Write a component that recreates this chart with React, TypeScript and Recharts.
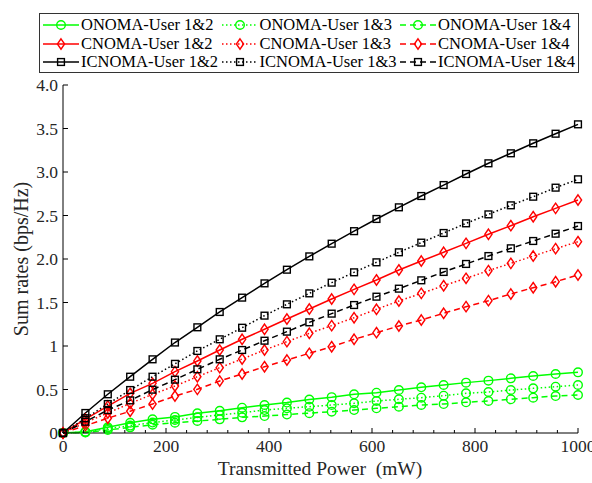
import { LineChart, Line, XAxis, YAxis } from "recharts";

// transmitted power (mW), 24 points
const power = [
  0, 43.5, 87, 130.4, 173.9, 217.4, 260.9, 304.3, 347.8, 391.3, 434.8, 478.3,
  521.7, 565.2, 608.7, 652.2, 695.7, 739.1, 782.6, 826.1, 869.6, 913, 956.5, 1000,
];

const onoma12 = [
  0, 0.015, 0.065, 0.118, 0.157, 0.185, 0.226, 0.256, 0.291, 0.322, 0.35, 0.385,
  0.412, 0.445, 0.463, 0.494, 0.525, 0.552, 0.579, 0.602, 0.628, 0.655, 0.678, 0.697,
];
const onoma13 = [
  0, 0.01, 0.05, 0.085, 0.12, 0.149, 0.18, 0.207, 0.233, 0.264, 0.284, 0.303,
  0.322, 0.341, 0.368, 0.387, 0.406, 0.429, 0.456, 0.471, 0.494, 0.513, 0.532, 0.552,
];
const onoma14 = [
  0, 0.005, 0.035, 0.065, 0.095, 0.118, 0.138, 0.157, 0.18, 0.195, 0.212, 0.228,
  0.245, 0.264, 0.284, 0.303, 0.322, 0.333, 0.353, 0.368, 0.387, 0.406, 0.425, 0.437,
];
const cnoma12 = [
  0, 0.16, 0.31, 0.456, 0.571, 0.705, 0.828, 0.954, 1.077, 1.192, 1.31, 1.425,
  1.54, 1.651, 1.759, 1.874, 1.977, 2.077, 2.18, 2.284, 2.383, 2.486, 2.582, 2.678,
];
const cnoma13 = [
  0, 0.12, 0.23, 0.34, 0.445, 0.54, 0.647, 0.751, 0.851, 0.954, 1.05, 1.146,
  1.234, 1.325, 1.422, 1.517, 1.605, 1.693, 1.778, 1.866, 1.95, 2.034, 2.119, 2.199,
];
const cnoma14 = [
  0, 0.085, 0.17, 0.25, 0.333, 0.425, 0.502, 0.598, 0.678, 0.762, 0.839, 0.916,
  0.992, 1.077, 1.153, 1.23, 1.299, 1.376, 1.452, 1.521, 1.598, 1.67, 1.739, 1.816,
];
const icnoma12 = [
  0, 0.23, 0.445, 0.647, 0.847, 1.04, 1.215, 1.391, 1.556, 1.72, 1.877, 2.03,
  2.176, 2.32, 2.46, 2.594, 2.724, 2.85, 2.977, 3.1, 3.215, 3.33, 3.44, 3.548,
];
const icnoma13 = [
  0, 0.17, 0.333, 0.494, 0.647, 0.795, 0.943, 1.077, 1.21, 1.349, 1.479, 1.605,
  1.728, 1.847, 1.962, 2.077, 2.188, 2.299, 2.41, 2.513, 2.617, 2.716, 2.82, 2.916,
];
const icnoma14 = [
  0, 0.13, 0.264, 0.375, 0.498, 0.613, 0.732, 0.847, 0.954, 1.061, 1.165, 1.272,
  1.372, 1.471, 1.567, 1.659, 1.755, 1.851, 1.943, 2.034, 2.123, 2.207, 2.291, 2.379,
];

const xMajorTicks = [0, 200, 400, 600, 800, 1000];
const xMinorTicks = [
  40, 80, 120, 160, 240, 280, 320, 360, 440, 480, 520, 560, 640, 680, 720, 760,
  840, 880, 920, 960,
];
const yTicks = [0, 0.5, 1, 1.5, 2, 2.5, 3, 3.5, 4];
const yTickLabels = ["0", "0.5", "1", "1.5", "2.0", "2.5", "3.0", "3.5", "4.0"];

const series = [
  { key: "o12", name: "ONOMA-User 1&2", values: onoma12, color: "#00ff00", dash: "", marker: "circle" },
  { key: "o13", name: "ONOMA-User 1&3", values: onoma13, color: "#00ff00", dash: "1.5 2.5", marker: "circle" },
  { key: "o14", name: "ONOMA-User 1&4", values: onoma14, color: "#00ff00", dash: "6 4", marker: "circle" },
  { key: "c12", name: "CNOMA-User 1&2", values: cnoma12, color: "#ff0000", dash: "", marker: "diamond" },
  { key: "c13", name: "CNOMA-User 1&3", values: cnoma13, color: "#ff0000", dash: "1.5 2.5", marker: "diamond" },
  { key: "c14", name: "CNOMA-User 1&4", values: cnoma14, color: "#ff0000", dash: "6 4", marker: "diamond" },
  { key: "i12", name: "ICNOMA-User 1&2", values: icnoma12, color: "#000000", dash: "", marker: "square" },
  { key: "i13", name: "ICNOMA-User 1&3", values: icnoma13, color: "#000000", dash: "1.5 2.5", marker: "square" },
  { key: "i14", name: "ICNOMA-User 1&4", values: icnoma14, color: "#000000", dash: "6 4", marker: "square" },
];

const data = power.map((p, i) => {
  const row: Record<string, number> = { p };
  series.forEach((s) => (row[s.key] = s.values[i]));
  return row;
});

const FONT = '"Liberation Serif", "Times New Roman", serif';
const TEXT = "#262626";

function drawMarker(shape: string, color: string, cx: number, cy: number, key?: string) {
  const common = { fill: "none", stroke: color, strokeWidth: 1.4, strokeDasharray: "none" };
  if (shape === "circle") return <circle key={key} cx={cx} cy={cy} r={4.3} {...common} />;
  if (shape === "diamond")
    return (
      <path
        key={key}
        d={`M${cx},${cy - 5.2}L${cx + 3.6},${cy}L${cx},${cy + 5.2}L${cx - 3.6},${cy}Z`}
        {...common}
      />
    );
  return <rect key={key} x={cx - 3.4} y={cy - 3.4} width={6.8} height={6.8} {...common} />;
}

const markerDot = (shape: string, color: string) => (props: any) => {
  const { cx, cy, index } = props;
  if (cx == null || cy == null) return <g key={`d${index}`} />;
  return drawMarker(shape, color, cx, cy, `d${index}`);
};

const BottomTick = (props: any) => {
  const { x, y, payload } = props;
  const major = xMajorTicks.includes(payload.value);
  return (
    <g>
      <line x1={x} y1={y} x2={x} y2={y - (major ? 5 : 3)} stroke="#000" />
      {major && (
        <text x={x} y={y + 19} textAnchor="middle" fontFamily={FONT} fontSize={17.5} fill={TEXT}>
          {payload.value}
        </text>
      )}
    </g>
  );
};

const TopTick = (props: any) => {
  const { x, y, payload } = props;
  const major = xMajorTicks.includes(payload.value);
  return <line x1={x} y1={y} x2={x} y2={y + (major ? 5 : 3)} stroke="#000" />;
};

const LeftTick = (props: any) => {
  const { x, y, payload } = props;
  const i = yTicks.indexOf(payload.value);
  return (
    <g>
      <line x1={x} y1={y} x2={x + 5} y2={y} stroke="#000" />
      <text x={x - 5} y={y + 6} textAnchor="end" fontFamily={FONT} fontSize={17.5} fill={TEXT}>
        {yTickLabels[i]}
      </text>
    </g>
  );
};

const RightTick = (props: any) => {
  const { x, y } = props;
  return <line x1={x} y1={y} x2={x - 5} y2={y} stroke="#000" />;
};

const LegendBox = () => (
  <div
    style={{
      position: "absolute",
      left: 39,
      top: 13,
      width: 538,
      height: 58,
      border: "1px solid #333",
      background: "#fff",
      fontFamily: FONT,
      fontSize: 16.5,
      color: "#000",
    }}
  >
    {series.map((s, i) => {
      const col = i % 3;
      const row = Math.floor(i / 3);
      return (
        <div
          key={s.key}
          style={{
            position: "absolute",
            left: 3 + col * 178.5,
            top: 2 + row * 18.7,
            height: 18,
            display: "flex",
            alignItems: "center",
            whiteSpace: "nowrap",
          }}
        >
          <svg width={36} height={14} style={{ marginRight: 2 }}>
            <line
              x1={0}
              y1={7}
              x2={36}
              y2={7}
              stroke={s.color}
              strokeWidth={1.5}
              strokeDasharray={s.dash || undefined}
            />
            {drawMarker(s.marker, s.color, 18, 7)}
          </svg>
          <span>{s.name}</span>
        </div>
      );
    })}
  </div>
);

export default function App() {
  return (
    <div style={{ position: "absolute", left: 0, top: 0, width: 592, height: 483, background: "#fff" }}>
      <LineChart width={592} height={483} data={data} margin={{ top: 85, right: 14, bottom: 0, left: 0 }}>
        <XAxis
          dataKey="p"
          type="number"
          domain={[0, 1000]}
          ticks={[...xMajorTicks, ...xMinorTicks].sort((a, b) => a - b)}
          interval={0}
          height={50}
          tickSize={0}
          tickMargin={0}
          tickLine={false}
          axisLine={{ stroke: "#000" }}
          tick={<BottomTick />}
          label={{
            content: () => (
              <text x={320} y={475} textAnchor="middle" fontFamily={FONT} fontSize={19.5} fill={TEXT}>
                {"Transmitted Power\u00a0\u00a0(mW)"}
              </text>
            ),
          }}
        />
        <XAxis
          xAxisId="top"
          orientation="top"
          dataKey="p"
          type="number"
          domain={[0, 1000]}
          ticks={[...xMajorTicks, ...xMinorTicks].sort((a, b) => a - b)}
          interval={0}
          height={0}
          tickSize={0}
          tickMargin={0}
          tickLine={false}
          axisLine={{ stroke: "#000" }}
          tick={<TopTick />}
        />
        <YAxis
          type="number"
          domain={[0, 4]}
          ticks={yTicks}
          interval={0}
          width={63}
          tickSize={0}
          tickMargin={0}
          tickLine={false}
          axisLine={{ stroke: "#000" }}
          tick={<LeftTick />}
          label={{
            content: () => (
              <text
                x={0}
                y={0}
                transform="translate(28 259) rotate(-90)"
                textAnchor="middle"
                fontFamily={FONT}
                fontSize={20}
                fill={TEXT}
              >
                Sum rates (bps/Hz)
              </text>
            ),
          }}
        />
        <YAxis
          yAxisId="right"
          orientation="right"
          type="number"
          domain={[0, 4]}
          ticks={yTicks}
          interval={0}
          width={0}
          tickSize={0}
          tickMargin={0}
          tickLine={false}
          axisLine={{ stroke: "#000" }}
          tick={<RightTick />}
        />
        {series.map((s) => (
          <Line
            key={s.key}
            dataKey={s.key}
            name={s.name}
            type="linear"
            stroke={s.color}
            strokeWidth={1.5}
            strokeDasharray={s.dash || undefined}
            dot={markerDot(s.marker, s.color)}
            activeDot={false}
            isAnimationActive={false}
          />
        ))}
      </LineChart>
      <LegendBox />
    </div>
  );
}
